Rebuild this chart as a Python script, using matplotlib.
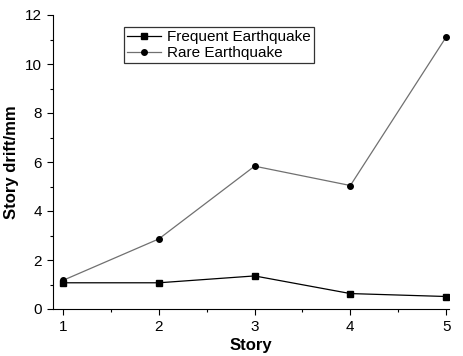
import matplotlib
matplotlib.use("Agg")
import matplotlib.pyplot as plt
from matplotlib.ticker import MultipleLocator

# Story drift data
stories = [1, 2, 3, 4, 5]
frequent = [1.07, 1.07, 1.35, 0.63, 0.51]
rare = [1.17, 2.86, 5.83, 5.04, 11.1]

plt.rcParams["font.family"] = ["Liberation Sans", "DejaVu Sans"]

fig = plt.figure(figsize=(4.63, 3.56), dpi=100)
ax = fig.add_axes([53 / 463, (356 - 309) / 356, (449 - 53) / 463, (309 - 15) / 356])

ax.plot(stories, frequent, color="black", lw=0.9, marker="s", ms=4.5,
        label="Frequent Earthquake")
ax.plot(stories, rare, color="#707070", lw=0.9, marker="o", ms=4,
        mfc="black", mec="black", label="Rare Earthquake")

ax.set_xlim(0.895, 5.03)
ax.set_ylim(0, 12)
ax.xaxis.set_major_locator(MultipleLocator(1))
ax.xaxis.set_minor_locator(MultipleLocator(0.5))
ax.yaxis.set_major_locator(MultipleLocator(2))
ax.yaxis.set_minor_locator(MultipleLocator(1))
ax.tick_params(which="major", direction="out", length=4, width=0.8,
               labelsize=11, pad=4)
ax.tick_params(which="minor", direction="out", length=2.5, width=0.8)

for side in ["top", "right"]:
    ax.spines[side].set_visible(False)

ax.set_xlabel("Story", fontsize=12, fontweight="bold", labelpad=3)
ax.set_ylabel("Story drift/mm", fontsize=12, fontweight="bold", labelpad=4)

leg = ax.legend(loc="upper left", bbox_to_anchor=(0.16, 0.985), fontsize=11,
                frameon=True, fancybox=False, edgecolor="black",
                handlelength=2.2, borderpad=0.2, labelspacing=0.15,
                handletextpad=0.4)
leg.get_frame().set_linewidth(0.9)

fig.savefig("out.png", dpi=100)
